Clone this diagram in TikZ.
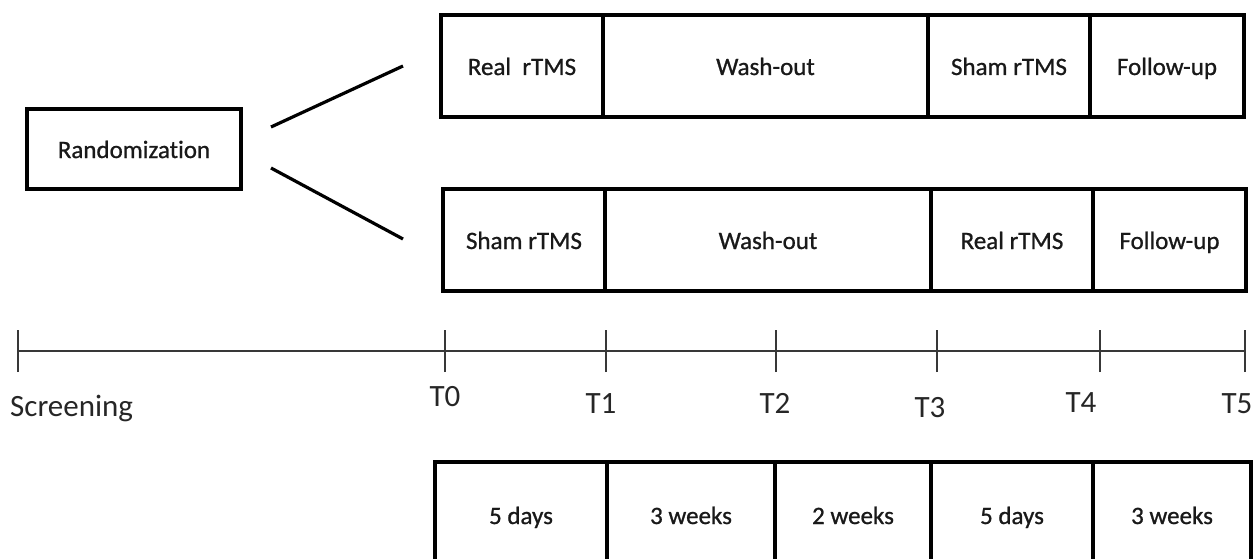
\documentclass[tikz,border=0pt]{standalone}
\usepackage{fontspec}
\setmainfont{Carlito}[Ligatures=NoCommon]
\newfontfamily\boxfont{Carlito}[Ligatures=NoCommon,FakeBold=0.9]
\begin{document}
\begin{tikzpicture}[x=1pt,y=-1pt,
  cell/.style={draw=black, line width=3.6pt, rectangle, inner sep=0pt,
    font=\boxfont\fontsize{25}{30}\selectfont, text=black!90,
    text height=20pt, text depth=2pt},
  connector/.style={draw=black, line width=3.2pt},
  axis/.style={draw=black!78, line width=2.4pt},
  tickmark/.style={draw=black!78, line width=2pt},
  tlabel/.style={font=\fontsize{31}{36}\selectfont, text=black!85, inner sep=0pt}]
\useasboundingbox (0,0) rectangle (1253,559);
\clip (0,0) rectangle (1253,559);

% Randomization
\node[cell, minimum width=214pt, minimum height=80pt] (rand) at (134,149) {Randomization};

% top sequence
\node[cell, minimum width=162pt, minimum height=102pt] (a1) at (522,66) {Real\hspace{0.45em}rTMS};
\node[cell, minimum width=325pt, minimum height=102pt] (a2) at (765.5,66) {Wash-out};
\node[cell, minimum width=162pt, minimum height=102pt] (a3) at (1009,66) {Sham rTMS};
\node[cell, minimum width=154pt, minimum height=102pt] (a4) at (1167,66) {Follow-up};

% bottom sequence
\node[cell, minimum width=162pt, minimum height=102pt] (b1) at (524,240) {Sham rTMS};
\node[cell, minimum width=326pt, minimum height=102pt] (b2) at (768,240) {Wash-out};
\node[cell, minimum width=162pt, minimum height=102pt] (b3) at (1012,240) {Real rTMS};
\node[cell, minimum width=153pt, minimum height=102pt] (b4) at (1169.5,240) {Follow-up};

% connectors from randomization
\coordinate (u0) at (271,127);
\coordinate (u1) at (403,66);
\coordinate (l0) at (271,168);
\coordinate (l1) at (403,239);
\draw[connector] (u0) -- (u1);
\draw[connector] (l0) -- (l1);

% timeline
\coordinate (ts) at (18,351);
\coordinate (t0) at (445,351);
\coordinate (t1) at (606,351);
\coordinate (t2) at (776,351);
\coordinate (t3) at (937,351);
\coordinate (t4) at (1100,351);
\coordinate (t5) at (1245,351);
\draw[axis] (ts) -- (t5);
\foreach \t in {ts,t0,t1,t2,t3,t4,t5}
  \draw[tickmark] ([yshift=-21pt]\t) -- ([yshift=21pt]\t);

\node[tlabel, anchor=base west] (scr) at (10,416) {Screening};
\node[tlabel, anchor=base] (l0lab) at (445,406) {T0};
\node[tlabel, anchor=base] (l1lab) at (601,413) {T1};
\node[tlabel, anchor=base] (l2lab) at (775,413) {T2};
\node[tlabel, anchor=base] (l3lab) at (930,417) {T3};
\node[tlabel, anchor=base] (l4lab) at (1081,412) {T4};
\node[tlabel, anchor=base] (l5lab) at (1237,413) {T5};

% durations
\node[cell, minimum width=172pt, minimum height=106pt] (d1) at (521,515) {5 days};
\node[cell, minimum width=168pt, minimum height=106pt] (d2) at (691,515) {3 weeks};
\node[cell, minimum width=156pt, minimum height=106pt] (d3) at (853,515) {2 weeks};
\node[cell, minimum width=162pt, minimum height=106pt] (d4) at (1012,515) {5 days};
\node[cell, minimum width=158pt, minimum height=106pt] (d5) at (1172,515) {3 weeks};
\end{tikzpicture}
\end{document}
